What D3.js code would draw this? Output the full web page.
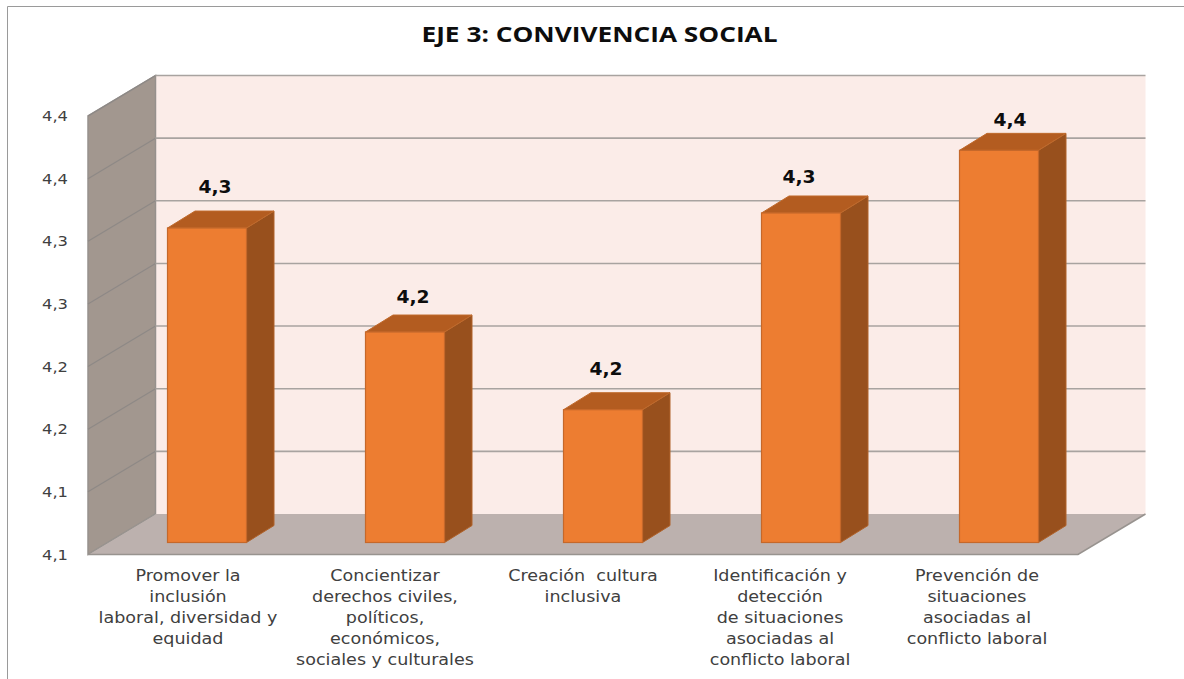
<!DOCTYPE html>
<html><head><meta charset="utf-8">
<script src="https://cdnjs.cloudflare.com/ajax/libs/d3/7.8.5/d3.min.js"></script>
<style>html,body{margin:0;padding:0;background:#fff}svg{display:block}</style></head>
<body><svg id="c" width="1184" height="679"></svg>
<script>
const title = "EJE 3: CONVIVENCIA SOCIAL";
const categories = [
  ["Promover la","inclusión","laboral, diversidad y","equidad"],
  ["Concientizar","derechos civiles,","políticos,","económicos,","sociales y culturales"],
  ["Creación  cultura","inclusiva"],
  ["Identificación y","detección","de situaciones","asociadas al","conflicto laboral"],
  ["Prevención de","situaciones","asociadas al","conflicto laboral"]
];
const values = [4.301, 4.218, 4.156, 4.313, 4.363];
const valueLabels = ["4,3","4,2","4,2","4,3","4,4"];
const labelShiftX = [0,0,-5,-10,3];
const labelShiftY = [0,6,0,5,11];
const categoryShiftX = [0,-1,-1,-2,-3];
const tickValues = [4.05,4.10,4.15,4.20,4.25,4.30,4.35,4.40];
const tickLabels = ["4,1","4,1","4,2","4,2","4,3","4,3","4,4","4,4"];

const svg = d3.select("#c");
const x = d3.scaleBand().domain(d3.range(categories.length)).range([88,1078]).padding(0);
const y = d3.scaleLinear().domain([4.05,4.40]).range([554.5,116]);
const wall = {dx:67.5, dy:-40.5};
const barPos = {dx:20, dy:-12};
const barDepth = {dx:27.5, dy:-17};
const barW = 79;
const stretch = 1.17;
const [x0,x1] = x.range();
const [yB,yT] = y.range();
const pts = a => a.map(p=>p.join(",")).join(" ");
const line = "#a8a3a0";

function wideText(parent, px, py, str, sx, size, weight, fill, family, anchor){
  return parent.append("text")
    .attr("transform",`translate(${px},${py}) scale(${sx},1)`)
    .attr("text-anchor",anchor||"middle").attr("font-family",family||"DejaVu Sans")
    .attr("font-weight",weight||"normal").attr("font-size",size).attr("fill",fill)
    .attr("xml:space","preserve").text(str);
}

// frame
svg.append("path").attr("d","M7.5,679V6.5H1184").attr("fill","none").attr("stroke","#9a9a9a").attr("stroke-width",1);

// back wall, side wall, floor
svg.append("polygon").attr("points",pts([[x0+wall.dx,yT+wall.dy],[x1+wall.dx,yT+wall.dy],[x1+wall.dx,yB+wall.dy],[x0+wall.dx,yB+wall.dy]])).attr("fill","#fbece8");
svg.append("polygon").attr("points",pts([[x0,yT],[x0+wall.dx,yT+wall.dy],[x0+wall.dx,yB+wall.dy],[x0,yB]])).attr("fill","#a2978f").attr("stroke","#96918d").attr("stroke-width",1.5);
svg.append("polygon").attr("points",pts([[x0,yB],[x0+wall.dx,yB+wall.dy],[x1+wall.dx,yB+wall.dy],[x1,yB]])).attr("fill","#bcb1ae");

// gridlines: side wall segment, then back wall segment
const gridTicks = tickValues.slice(1);
svg.append("g").selectAll("path").data(gridTicks).join("path")
  .attr("d",d=>`M${x0},${y(d)}L${x0+wall.dx},${y(d)+wall.dy}`)
  .attr("fill","none").attr("stroke","#8e8986").attr("stroke-width",1.2);
svg.append("g").selectAll("path").data(gridTicks).join("path")
  .attr("d",d=>`M${x0+wall.dx},${y(d)+wall.dy}H${x1+wall.dx}`)
  .attr("fill","none").attr("stroke",line).attr("stroke-width",1.6);
svg.append("path").attr("d",`M${x0},${yB}H${x1}L${x1+wall.dx},${yB+wall.dy}`).attr("fill","none").attr("stroke","#98938f").attr("stroke-width",1.6);
svg.append("path").attr("d",`M${x0},${yB}L${x0+wall.dx},${yB+wall.dy}`).attr("fill","none").attr("stroke","#98938f").attr("stroke-width",1);

// y tick labels
tickValues.forEach((d,i)=>wideText(svg,68,y(d)+5,tickLabels[i],stretch,14,"normal","#404040","DejaVu Sans","end"));

// bars
const bars = svg.append("g").selectAll("g").data(values).join("g");
const bx = (i)=>x(i)+x.bandwidth()/2-barW/2+barPos.dx;
const by = d=>y(d)+barPos.dy;
const by0 = yB+barPos.dy;
bars.append("polygon").attr("points",(d,i)=>pts([[bx(i)+barW,by(d)],[bx(i)+barW+barDepth.dx,by(d)+barDepth.dy],[bx(i)+barW+barDepth.dx,by0+barDepth.dy],[bx(i)+barW,by0]])).attr("fill","#98501d").attr("stroke","#b0622a").attr("stroke-width",1);
bars.append("polygon").attr("points",(d,i)=>pts([[bx(i),by(d)],[bx(i)+barDepth.dx,by(d)+barDepth.dy],[bx(i)+barW+barDepth.dx,by(d)+barDepth.dy],[bx(i)+barW,by(d)]])).attr("fill","#b35c20").attr("stroke","#c06a2c").attr("stroke-width",1);
bars.append("rect").attr("x",(d,i)=>bx(i)).attr("y",d=>by(d)).attr("width",barW).attr("height",d=>by0-by(d)).attr("fill","#ed7d31").attr("stroke","#c5682a").attr("stroke-width",1.2);

// value labels
values.forEach((d,i)=>wideText(svg,bx(i)+barW/2+8+labelShiftX[i],by(d)+barDepth.dy-18+labelShiftY[i],valueLabels[i],1.1,17,"bold","#0d0d0d"));

// category labels
categories.forEach((lines,i)=>{
  lines.forEach((s,j)=>wideText(svg,x(i)+x.bandwidth()/2+1+categoryShiftX[i],581+j*21,s,stretch,15,"normal","#404040"));
});

// title
wideText(svg,599.5,42,title,1.25,21,"bold","#0d0d0d","Open Sans");
</script></body></html>
